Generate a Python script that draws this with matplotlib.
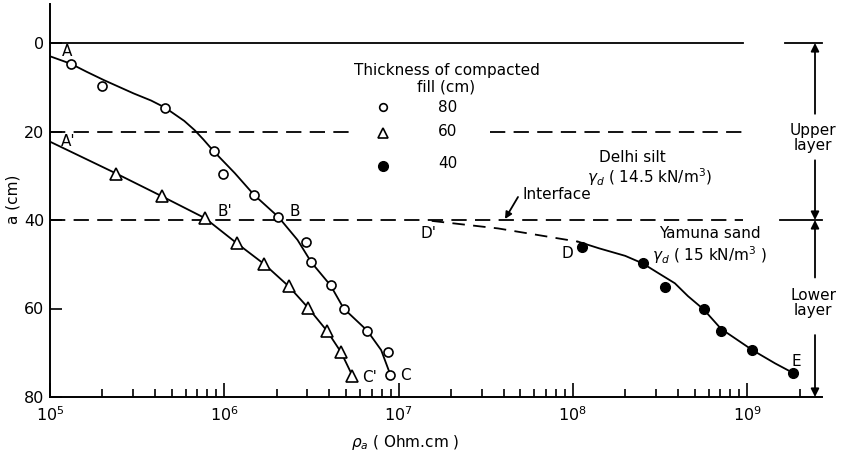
import numpy as np
import matplotlib
matplotlib.use('Agg')
import matplotlib.pyplot as plt
import matplotlib.transforms as mtransforms
from matplotlib.ticker import FixedLocator, NullFormatter

plt.rcParams['font.family'] = ['DejaVu Sans']
plt.rcParams['mathtext.fontset'] = 'dejavusans'
plt.rcParams['lines.scale_dashes'] = False

# ---------------- data (log10 of rho_a in Ohm.cm, depth a in cm) ----------------
# 80 cm fill (open circles)
log_rho_80 = [5.12, 5.30, 5.66, 5.94, 5.99, 6.17, 6.31, 6.47, 6.50, 6.61, 6.685, 6.82, 6.94, 6.953]
depth_80 = [4.7, 9.8, 14.6, 24.5, 29.5, 34.3, 39.3, 45.0, 49.6, 54.8, 60.0, 65.0, 69.8, 75.0]
curve80_log = [5.00, 5.12, 5.21, 5.31, 5.48, 5.58, 5.66, 5.77, 5.83, 5.88, 5.94, 6.06, 6.17,
               6.31, 6.42, 6.50, 6.61, 6.685, 6.82, 6.90, 6.953]
curve80_depth = [3.0, 4.7, 6.5, 8.4, 11.4, 13.0, 14.6, 17.6, 19.7, 21.8, 24.5, 29.4, 34.3,
                 39.3, 44.5, 49.6, 54.8, 60.0, 65.0, 69.4, 75.0]

# 60 cm fill (open triangles)
log_rho_60 = [5.38, 5.64, 5.89, 6.07, 6.23, 6.37, 6.48, 6.59, 6.67, 6.735]
depth_60 = [29.5, 34.6, 39.6, 45.2, 50.0, 55.0, 59.8, 65.1, 69.9, 75.2]
curve60_log = [5.00, 5.38, 5.64, 5.89, 6.07, 6.23, 6.37, 6.48, 6.59, 6.67, 6.735]
curve60_depth = [22.3, 29.5, 34.6, 39.6, 45.2, 50.0, 55.0, 59.8, 65.1, 69.9, 75.2]

# 40 cm fill (filled circles)
log_rho_40 = [8.05, 8.40, 8.53, 8.75, 8.85, 9.03, 9.265]
depth_40 = [46.0, 49.8, 55.2, 60.2, 65.0, 69.4, 74.6]
dash40_log = [7.19, 7.57, 8.03]
dash40_depth = [40.2, 41.9, 44.9]
curve40_log = [8.03, 8.15, 8.30, 8.40, 8.49, 8.585, 8.66, 8.75, 8.85, 9.03, 9.16, 9.265]
curve40_depth = [44.9, 46.4, 48.1, 49.8, 52.0, 54.3, 57.2, 60.2, 64.6, 69.4, 72.4, 74.6]

legend_labels = ['80', '60', '40']
x_tick_exps = [5, 6, 7, 8, 9]
y_ticks = [0, 20, 40, 60, 80]

# ---------------- figure ----------------
W, H = 848, 458
fig = plt.figure(figsize=(W / 100, H / 100), dpi=100)
L, R, T, B = 50, 822, 4, 397
ax = fig.add_axes([L / W, 1 - B / H, (R - L) / W, (B - T) / H])

xlo, xhi = 5.0, 5.0 + (R - L) / 174.3
ax.set_xscale('log')
ax.set_xlim(10 ** xlo, 10 ** xhi)
ax.set_ylim(80, (T - 43) / 4.425)

for s in ['top', 'right']:
    ax.spines[s].set_visible(False)
for s in ['left', 'bottom']:
    ax.spines[s].set_linewidth(1.4)

ax.xaxis.set_major_locator(FixedLocator([10.0 ** e for e in x_tick_exps]))
ax.set_xticklabels([r'$10^{%d}$' % e for e in x_tick_exps], fontsize=11.5)
minors = [m * 10.0 ** e for e in range(5, 10) for m in range(2, 10)]
ax.xaxis.set_minor_locator(FixedLocator(minors))
ax.xaxis.set_minor_formatter(NullFormatter())
ax.tick_params(axis='x', which='major', direction='in', length=10, width=1.2, pad=6)
ax.tick_params(axis='x', which='minor', direction='in', length=5.5, width=1.2)
ax.set_yticks(y_ticks)
ax.set_yticklabels([str(v) for v in y_ticks], fontsize=11.5)
ax.tick_params(axis='y', which='major', direction='in', length=8.5, width=1.2, pad=4)

def px(x, y):
    """pixel position -> axes fraction"""
    return ((x - L) / (R - L), (B - y) / (B - T))

blend = mtransforms.blended_transform_factory(ax.transAxes, ax.transData)
dash = (0, (11, 6))
lw = 1.3

# reference lines
x_end = px(743, 0)[0]
ax.plot([0, x_end], [0, 0], color='black', lw=lw, transform=blend, clip_on=False)
ax.plot([px(785, 0)[0], 1.0], [0, 0], color='black', lw=lw, transform=blend, clip_on=False)
ax.plot([0, px(350, 0)[0]], [20, 20], color='black', lw=lw, ls=dash, transform=blend)
ax.plot([px(490, 0)[0], x_end], [20, 20], color='black', lw=lw, ls=dash, transform=blend)
ax.plot([0, x_end], [40, 40], color='black', lw=lw, ls=dash, transform=blend)
ax.plot([px(780, 0)[0], 1.0], [40, 40], color='black', lw=lw, transform=blend, clip_on=False)

# curves
to_rho = lambda seq: [10.0 ** v for v in seq]
ax.plot(to_rho(curve80_log), curve80_depth, color='black', lw=lw)
ax.plot(to_rho(curve60_log), curve60_depth, color='black', lw=lw)
ax.plot(to_rho(dash40_log), dash40_depth, color='black', lw=lw, ls=(0, (9, 6)))
ax.plot(to_rho(curve40_log), curve40_depth, color='black', lw=lw)

# markers
ax.plot(to_rho(log_rho_80), depth_80, 'o', ms=6.5, mfc='white', mec='black', mew=1.2, ls='none', zorder=3)
ax.plot(to_rho(log_rho_60), depth_60, '^', ms=8, mfc='white', mec='black', mew=1.2, ls='none', zorder=3)
ax.plot(to_rho(log_rho_40), depth_40, 'o', ms=7, mfc='black', mec='black', ls='none', zorder=3)

# legend (manual)
fs = 11
def txt(x, y, s, **kw):
    kw.setdefault('fontsize', fs)
    kw.setdefault('ha', 'center')
    kw.setdefault('va', 'center')
    ax.text(*px(x, y), s, transform=ax.transAxes, **kw)

txt(447, 70, 'Thickness of compacted')
txt(446, 87, 'fill (cm)')
ax.plot(*px(383, 107), 'o', ms=5.5, mfc='white', mec='black', mew=1.2, transform=ax.transAxes, clip_on=False)
ax.plot(*px(383, 133), '^', ms=7, mfc='white', mec='black', mew=1.2, transform=ax.transAxes, clip_on=False)
ax.plot(*px(383, 166), 'o', ms=7, mfc='black', mec='black', transform=ax.transAxes, clip_on=False)
for yy, lab in zip([107, 132, 163], legend_labels):
    txt(448, yy, lab)

# annotations
txt(632, 157, 'Delhi silt')
txt(587, 177, r'$\gamma_d$ ( 14.5 kN/m$^3$)', ha='left')
txt(522, 195, 'Interface', ha='left')
ax.annotate('', xy=px(505, 219), xytext=px(518, 197), xycoords='axes fraction', textcoords='axes fraction',
            arrowprops=dict(arrowstyle='-|>', color='black', lw=1.3, mutation_scale=10, shrinkA=0, shrinkB=0))
txt(710, 233, 'Yamuna sand')
txt(652, 255, r'$\gamma_d$ ( 15 kN/m$^3$ )', ha='left')
txt(813, 138, 'Upper\nlayer', linespacing=1.0)
txt(813, 303, 'Lower\nlayer', linespacing=1.0)

xa = px(815, 0)[0]
for y_head, y_tail in [(0, 16), (40, 26.5), (40, 53), (80, 66)]:
    ax.annotate('', xy=(xa, y_head), xytext=(xa, y_tail), xycoords=blend, textcoords=blend,
                arrowprops=dict(arrowstyle='-|>', color='black', lw=1.3, mutation_scale=12,
                                shrinkA=0, shrinkB=0), annotation_clip=False)

for x, y, s in [(67, 52, 'A'), (68, 141, "A'"), (225, 211, "B'"), (295, 212, 'B'),
                (370, 378, "C'"), (405, 376, 'C'), (428, 233, "D'"), (567, 253, 'D'),
                (796, 362, 'E')]:
    txt(x, y, s)

# axis labels
fig.text(13 / W, 1 - 199 / H, 'a (cm)', rotation=90, ha='center', va='center', fontsize=fs)
fig.text(405 / W, 1 - 442 / H, r'$\rho_a$ ( Ohm.cm )', ha='center', va='center', fontsize=fs)

fig.savefig('out.png', dpi=100)
